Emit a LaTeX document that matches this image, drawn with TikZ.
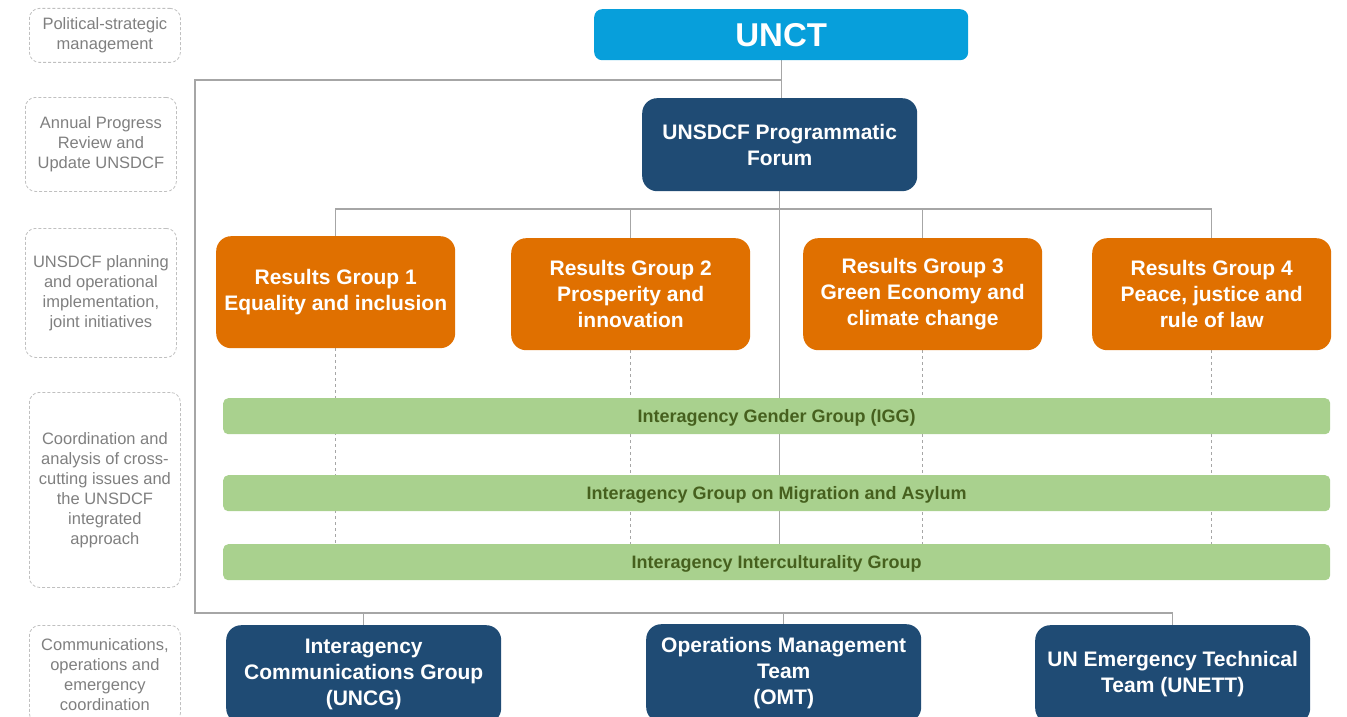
\documentclass[tikz,border=0pt]{standalone}
\usepackage{fontspec}
\setmainfont{Liberation Sans}
\usetikzlibrary{backgrounds}
\definecolor{unctblue}{HTML}{079FDB}
\definecolor{navy}{HTML}{1F4B74}
\definecolor{orng}{HTML}{E07000}
\definecolor{lgreen}{HTML}{A9D18E}
\definecolor{dgreen}{HTML}{46601E}
\definecolor{lgray}{HTML}{A6A6A6}
\definecolor{lblgray}{HTML}{7F7F7F}
\definecolor{dashgray}{HTML}{C0C0C0}
\begin{document}
\begin{tikzpicture}[x=1pt,y=-1pt,
  box/.style={anchor=north west, inner sep=0pt, align=center, text=white,
    font=\bfseries\fontsize{21}{26}\selectfont},
  unctbox/.style={box, fill=unctblue, rounded corners=8pt, minimum width=374pt, minimum height=51pt,
    font=\bfseries\fontsize{33}{38}\selectfont},
  navybox/.style={box, fill=navy, rounded corners=15pt},
  rgbox/.style={box, fill=orng, rounded corners=15pt, minimum width=239pt, minimum height=112pt},
  grbar/.style={anchor=north west, inner sep=0pt, fill=lgreen, rounded corners=5pt,
    minimum width=1107pt, minimum height=36pt, text height=13pt, text depth=0pt,
    text=dgreen, font=\bfseries\fontsize{18}{22}\selectfont},
  lbl/.style={draw=dashgray, densely dashed, line width=0.8pt, rounded corners=10pt, anchor=north west,
    inner sep=0pt, align=center, text=lblgray, minimum width=151pt, font=\fontsize{16.5}{20}\selectfont},
  conn/.style={draw=lgray, line width=1.3pt},
  dconn/.style={draw=lgray, line width=1pt, dash pattern=on 3pt off 3pt},
]
\useasboundingbox (0,0) rectangle (1347,717);
\clip (0,0) rectangle (1347,717);

% left labels
\node[lbl, minimum height=54pt] (l1) at (29,8) {Political-strategic\\management};
\node[lbl, minimum height=94pt] (l2) at (25,97) {Annual Progress\\Review and\\Update UNSDCF};
\node[lbl, minimum height=129pt] (l3) at (25,228) {UNSDCF planning\\and operational\\implementation,\\joint initiatives};
\node[lbl, minimum height=195pt] (l4) at (29,392) {Coordination and\\analysis of cross-\\cutting issues and\\the UNSDCF\\integrated\\approach};
\node[lbl, minimum height=98pt] (l5) at (29,625) {Communications,\\operations and\\emergency\\coordination};

% main boxes
\node[unctbox] (unct) at (594,9) {UNCT};
\node[navybox, minimum width=275pt, minimum height=93pt] (forum) at (642,98) {UNSDCF Programmatic\\Forum};
\node[rgbox] (rg1) at (216,236) {Results Group 1\\Equality and inclusion};
\node[rgbox] (rg2) at (511,238) {Results Group 2\\Prosperity and\\innovation};
\node[rgbox] (rg3) at (803,238) {Results Group 3\\Green Economy and\\climate change};
\node[rgbox] (rg4) at (1092,238) {Results Group 4\\Peace, justice and\\rule of law};
\node[grbar] (igg) at (223,398) {Interagency Gender Group (IGG)};
\node[grbar] (mig) at (223,475) {Interagency Group on Migration and Asylum};
\node[grbar] (ic) at (223,544) {Interagency Interculturality Group};
\node[navybox, minimum width=275pt, minimum height=98pt] (uncg) at (226,625) {Interagency\\Communications Group\\(UNCG)};
\node[navybox, minimum width=275pt, minimum height=98pt] (omt) at (646,624) {Operations Management\\Team\\(OMT)};
\node[navybox, minimum width=275pt, minimum height=98pt] (unett) at (1035,625) {UN Emergency Technical\\Team (UNETT)};

% connectors
\coordinate (tl) at (195,80);
\coordinate (bl) at (195,613);
\coordinate (rgbar) at (0,209);
\begin{scope}[on background layer]
  \draw[conn] (unct.south) -- (unct.south |- forum.north);
  \draw[conn] (unct.south |- tl) -- (tl) -- (bl) -- (unett.north |- bl) -- (unett.north);
  \draw[conn] (uncg.north |- bl) -- (uncg.north);
  \draw[conn] (omt.north |- bl) -- (omt.north);
  \draw[conn] (forum.south) -- (forum.south |- ic.north);
  \draw[conn] (rg1.north) -- (rg1.north |- rgbar) -- (rg4.north |- rgbar) -- (rg4.north);
  \draw[conn] (rg2.north |- rgbar) -- (rg2.north);
  \draw[conn] (rg3.north |- rgbar) -- (rg3.north);
  \draw[dconn] (rg1.south) -- (rg1.south |- ic.north);
  \draw[dconn] (rg2.south) -- (rg2.south |- ic.north);
  \draw[dconn] (rg3.south) -- (rg3.south |- ic.north);
  \draw[dconn] (rg4.south) -- (rg4.south |- ic.north);
\end{scope}
\end{tikzpicture}
\end{document}
